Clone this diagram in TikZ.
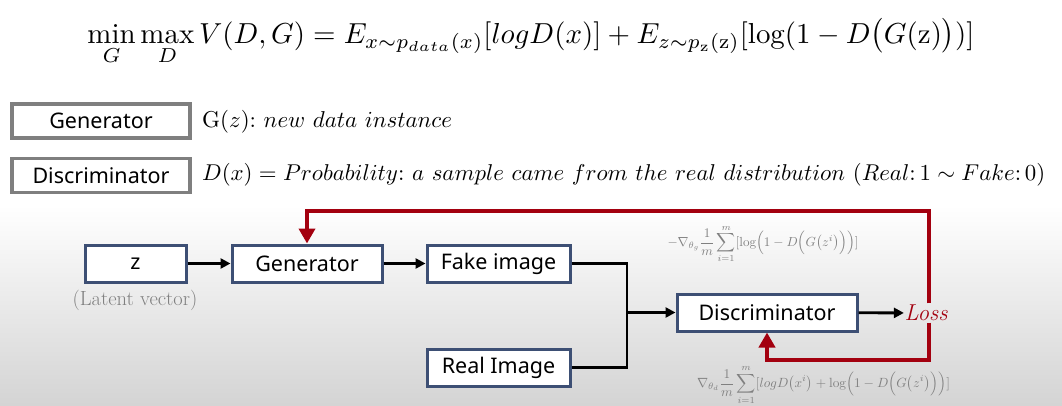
\documentclass[tikz,border=0pt]{standalone}
\usepackage{fontspec}
\setsansfont{Noto Sans}
\usepackage{amsmath}
\usetikzlibrary{arrows.meta}
\definecolor{boxblue}{HTML}{3D4F74}
\definecolor{lossred}{HTML}{A3000F}
\definecolor{legendgray}{HTML}{7F7F7F}
\definecolor{labelgray}{HTML}{808080}
\begin{document}
\begin{tikzpicture}[x=1pt,y=-1pt,
  flowbox/.style={draw=boxblue,line width=3pt,fill=white,minimum height=37pt,inner sep=0pt,font=\sffamily\fontsize{21.5}{24}\selectfont},
  legendbox/.style={draw=legendgray,line width=3.2pt,fill=white,minimum width=178pt,minimum height=34pt,inner sep=0pt,font=\sffamily\fontsize{21.5}{24}\selectfont},
  flowarrow/.style={line width=2.8pt,-{Triangle[length=10pt,width=10pt]}},
  flowline/.style={line width=2.8pt},
  lossarrow/.style={draw=lossred,line width=4.5pt,-{Triangle[length=15pt,width=16pt]}},
  gradlabel/.style={text=labelgray,inner sep=0pt}]
\useasboundingbox (0,0) rectangle (1062,406);
\shade[top color=white,bottom color=black!17] (0,205) rectangle (1062,406);
\fill[white] (0,0) rectangle (1062,205);
% equation
\node (eq) at (531,42) {\resizebox{887pt}{!}{$\displaystyle\min_{G}\max_{D} V(D,G)=E_{x\sim p_{data}(x)}[logD(x)]+E_{z\sim p_{\mathrm{z}}(\mathrm{z})}[\log(1-D\bigl(G(\mathrm{z})\bigr))]$}};
% legend
\node[legendbox] (lgen) at (101,121) {Generator};
\node[legendbox] (ldis) at (101,175.5) {Discriminator};
\node[anchor=west,inner sep=0pt] (tgen) at (202,122) {\resizebox{250pt}{!}{$\mathrm{G}(z){:}\ new\ data\ instance$}};
\node[anchor=west,inner sep=0pt] (tdis) at (202,175) {\resizebox{843pt}{!}{$D(x)=Probability{:}\ a\ sample\ came\ from\ the\ real\ distribution\ (Real{:}\,1\sim Fake{:}\,0)$}};
% flow
\node[flowbox,minimum width=101pt] (z) at (135.5,263.5) {z};
\node[flowbox,minimum width=150pt] (gen) at (307,263.5) {Generator};
\node[flowbox,minimum width=143pt] (fake) at (498.5,263.5) {Fake image};
\node[flowbox,minimum width=180pt] (dis) at (767,312.5) {Discriminator};
\node[flowbox,minimum width=143pt] (real) at (498.5,367.5) {Real Image};
\node[text=lossred,inner sep=0.5pt,font=\fontsize{23}{26}\selectfont\itshape] (loss) at (926,313) {Loss};
\node[text=labelgray,font=\fontsize{20.5}{23}\selectfont] (lat) at (135,300) {(Latent vector)};
\coordinate (junc) at (627,312.5);
\draw[flowarrow] (z) -- (gen);
\draw[flowarrow] (gen) -- (fake);
\draw[flowline] (fake.east) -| (junc);
\draw[flowline] (real.east) -| (junc);
\draw[flowarrow] (junc) -- (dis);
\draw[flowarrow] (dis) -- (loss);
% red loops
\draw[lossarrow] (loss.north -| 929,0) ++(0,-1) -- (929,211) -| (gen.north);
\draw[lossarrow] (loss.south -| 929,0) ++(0,1) -- (929,360) -| (dis.south);
% gradient labels
\node[gradlabel] (g1) at (763,244) {\resizebox{191pt}{!}{$-\nabla_{\theta_g}\dfrac{1}{m}\displaystyle\sum_{i=1}^{m}[\log\Bigl(1-D\Bigl(G\bigl(z^{i}\bigr)\Bigr)\Bigr)]$}};
\node[gradlabel] (g2) at (823.5,385) {\resizebox{253pt}{!}{$\nabla_{\theta_d}\dfrac{1}{m}\displaystyle\sum_{i=1}^{m}[logD\bigl(x^{i}\bigr)+\log\Bigl(1-D\Bigl(G\bigl(z^{i}\bigr)\Bigr)\Bigr)]$}};
\end{tikzpicture}
\end{document}
